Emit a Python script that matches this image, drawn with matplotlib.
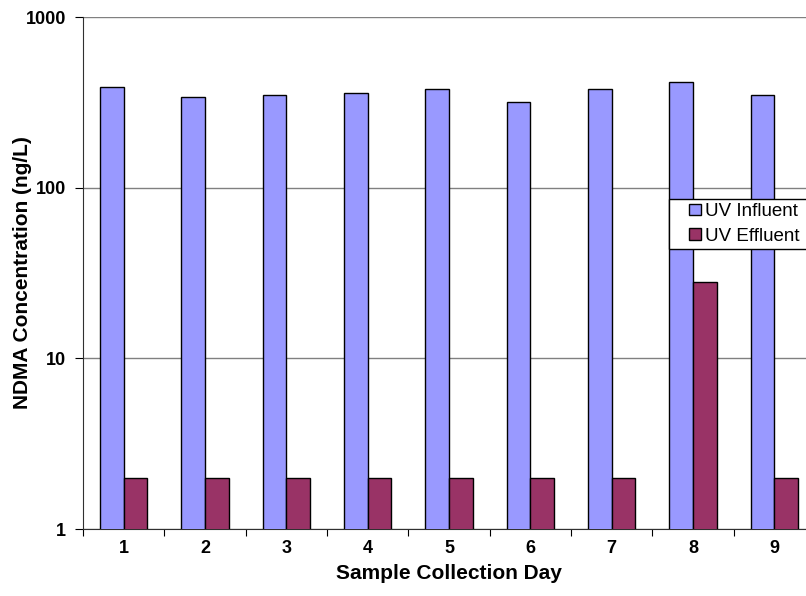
import matplotlib
matplotlib.use('Agg')
import matplotlib.pyplot as plt
import matplotlib.patches as mpatches
from matplotlib.container import BarContainer
from matplotlib.legend_handler import HandlerPatch, update_from_first_child
import numpy as np

plt.rcParams['font.family'] = ['Liberation Sans', 'DejaVu Sans']

# sample collection days and NDMA concentrations (ng/L)
days = ['1', '2', '3', '4', '5', '6', '7', '8', '9']
uv_influent = [389, 341, 351, 360, 379, 319, 379, 418, 351]
uv_effluent = [2, 2, 2, 2, 2, 2, 2, 28, 2]

fig = plt.figure(figsize=(8.06, 5.96), dpi=100)
# plot area runs past the right edge of the picture, like the original
ax = fig.add_axes([83 / 806, 1 - 529 / 596, 732 / 806, 512 / 596])

x = np.arange(len(days))
w = 0.29
ax.bar(x - w / 2, uv_influent, w, color='#9999FF', edgecolor='black', linewidth=1,
       label='UV Influent', zorder=3)
ax.bar(x + w / 2, uv_effluent, w, color='#993366', edgecolor='black', linewidth=1,
       label='UV Effluent', zorder=3)

ax.set_yscale('log')
ax.set_ylim(1, 1000)
ax.set_xlim(-0.5, len(days) - 0.5)
ax.set_yticks([1, 10, 100, 1000])
ax.set_yticklabels(['1', '10', '100', '1000'])
ax.yaxis.set_minor_locator(matplotlib.ticker.NullLocator())
ax.set_xticks(x)
ax.set_xticklabels(days)
ax.set_xticks(np.arange(len(days) + 1) - 0.5, minor=True)
ax.tick_params(axis='x', which='major', length=0, pad=8)
ax.tick_params(axis='x', which='minor', length=5, direction='out', width=0.8)
ax.tick_params(axis='y', length=6, direction='out', width=0.8, pad=6)
for lab in ax.get_xticklabels() + ax.get_yticklabels():
    lab.set_fontweight('bold')
    lab.set_fontsize(13)

ax.grid(axis='y', color='#808080', linewidth=1, zorder=0)
for s in ['top', 'right']:
    ax.spines[s].set_visible(False)
ax.spines['left'].set_color('#303030')
ax.spines['bottom'].set_color('#303030')

ax.set_xlabel('Sample Collection Day', fontsize=15, fontweight='bold', labelpad=5)
ax.set_ylabel('NDMA Concentration (ng/L)', fontsize=15, fontweight='bold')
ax.yaxis.set_label_coords(-51 / 732, 0.5)


# small square swatch sitting at the right end of the handle area
def square_swatch(legend, orig_handle, xdescent, ydescent, width, height, fontsize):
    s = 0.62 * fontsize
    return mpatches.Rectangle((-xdescent + width - s, -ydescent + (height - s) / 2), s, s)


# legend box is cut off by the right edge of the picture
box = mpatches.Rectangle((669 / 806, 1 - 249 / 596), 150 / 806, 50 / 596,
                         transform=fig.transFigure, facecolor='white', edgecolor='black',
                         linewidth=1, zorder=4, clip_on=False)
ax.add_patch(box)

leg = ax.legend(loc='upper left', bbox_to_anchor=(672 / 806, 1 - 203 / 596),
                bbox_transform=fig.transFigure, fontsize=13.5, frameon=False,
                handlelength=1.55, handleheight=0.7, handletextpad=0.2, borderpad=0,
                labelspacing=0.4, borderaxespad=0,
                handler_map={BarContainer: HandlerPatch(patch_func=square_swatch,
                                                        update_func=update_from_first_child)})
leg.set_zorder(5)

fig.savefig('out.png', dpi=100)
